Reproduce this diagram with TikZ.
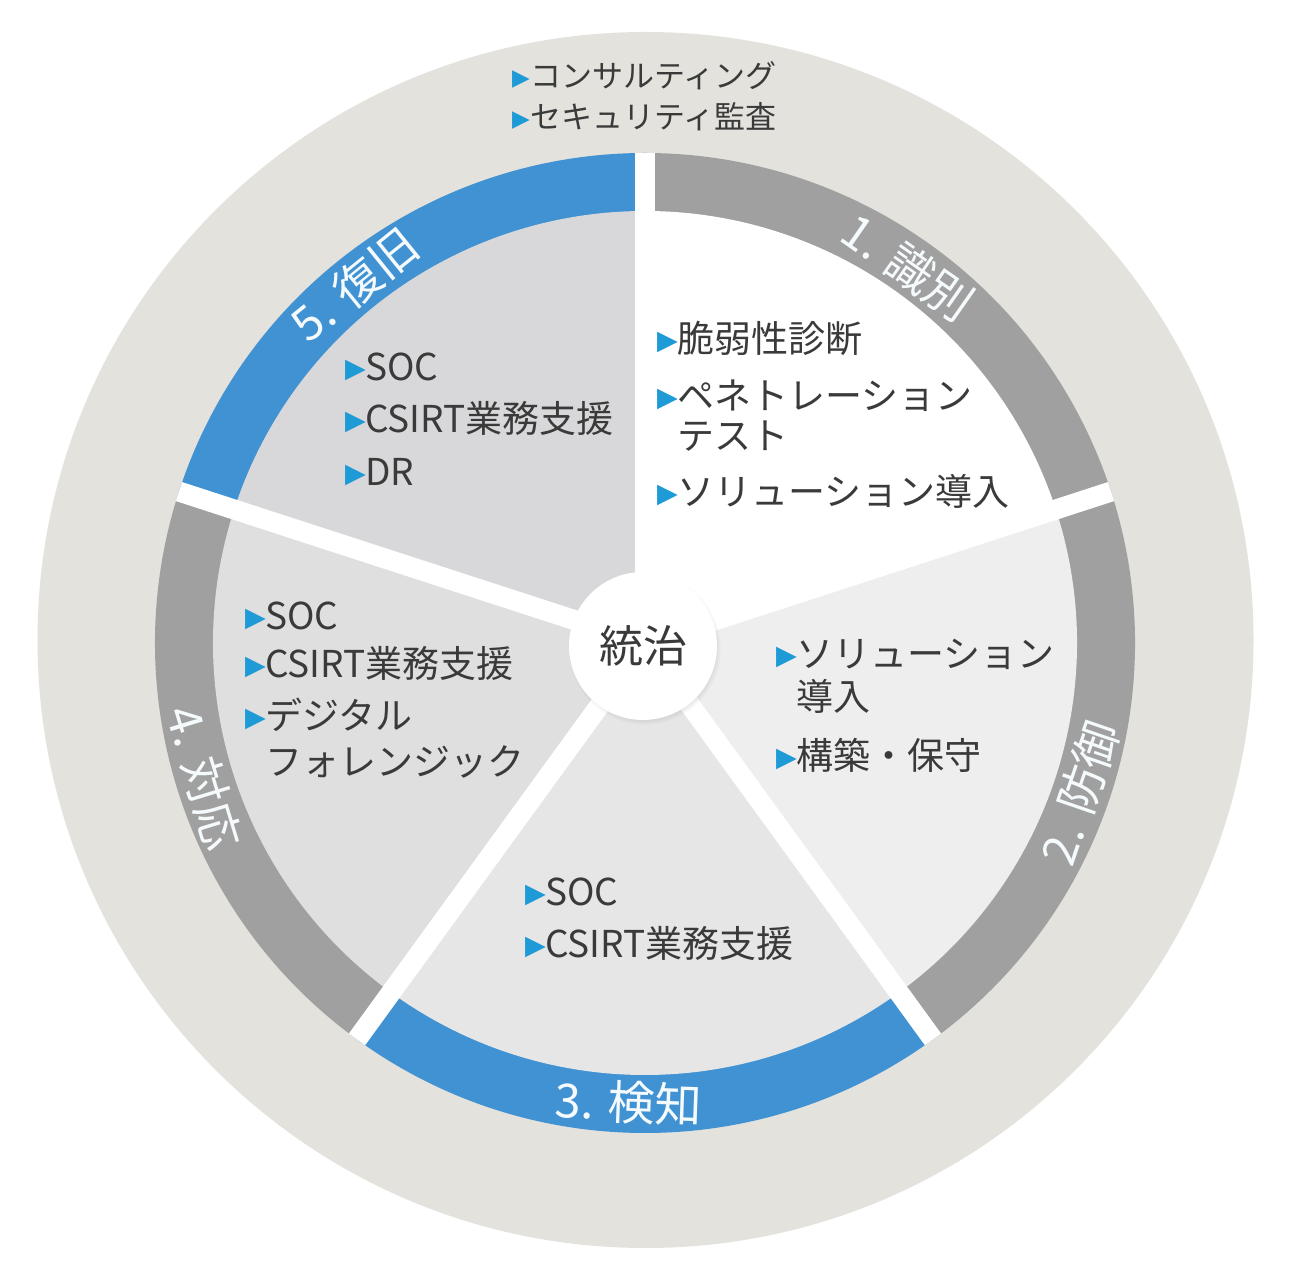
\documentclass[tikz,border=0pt]{standalone}
\usepackage{fontspec}
\setmainfont{Noto Sans CJK JP}
\newfontfamily\dejavu{DejaVu Sans}
\usetikzlibrary{shadows}
\definecolor{outerbg}{HTML}{E3E2DD}
\definecolor{bandgrey}{HTML}{A0A0A0}
\definecolor{bandblue}{HTML}{4092D3}
\definecolor{segA}{HTML}{FFFFFF}
\definecolor{segB}{HTML}{EEEEEE}
\definecolor{segC}{HTML}{E6E6E6}
\definecolor{segD}{HTML}{DFDFDF}
\definecolor{segE}{HTML}{D8D8DA}
\definecolor{txt}{HTML}{3A3A3A}
\definecolor{bul}{HTML}{1E9AD6}
\definecolor{lbl}{HTML}{F5FAFD}
\newcommand\itembul{\makebox[20pt][l]{\raisebox{3pt}{\textcolor{bul}{\dejavu\fontsize{27pt}{27pt}\selectfont ▶}}}}
\newcommand\smallbul{\makebox[18pt][l]{\raisebox{2.5pt}{\textcolor{bul}{\dejavu\fontsize{23pt}{23pt}\selectfont ▶}}}}
\newcommand\itemind{\hspace*{20pt}}
\begin{document}
\begin{tikzpicture}[x=1pt,y=1pt,
  itemtext/.style={anchor=base west, inner sep=0pt, align=left, text=txt,
    font=\fontsize{37pt}{40pt}\selectfont},
  bandlabel/.style={inner sep=0pt, text=lbl, font=\fontsize{47pt}{47pt}\selectfont},
  govnode/.style={circle, fill=white, minimum size=148pt, inner sep=0pt, text=txt,
    font=\fontsize{44pt}{44pt}\selectfont,
    circular drop shadow={shadow xshift=1.5pt, shadow yshift=-2.5pt, shadow scale=1.03, opacity=0.35}},
]
\useasboundingbox (0,0) rectangle (1300,1266);
\fill[white] (0,0) rectangle (1300,1266);
\coordinate (C) at (645,623);
% outer disc
\fill[outerbg] (645.5,626) circle[radius=608];
% coloured band segments
\fill[bandgrey] (C) -- ++(18:490) arc[start angle=18,end angle=90,radius=490] -- cycle;
\fill[bandgrey] (C) -- ++(-54:490) arc[start angle=-54,end angle=18,radius=490] -- cycle;
\fill[bandblue] (C) -- ++(-126:490) arc[start angle=-126,end angle=-54,radius=490] -- cycle;
\fill[bandgrey] (C) -- ++(162:490) arc[start angle=162,end angle=234,radius=490] -- cycle;
\fill[bandblue] (C) -- ++(90:490) arc[start angle=90,end angle=162,radius=490] -- cycle;
% inner wedges
\fill[segA] (C) -- ++(18:432) arc[start angle=18,end angle=90,radius=432] -- cycle;
\fill[segB] (C) -- ++(-54:432) arc[start angle=-54,end angle=18,radius=432] -- cycle;
\fill[segC] (C) -- ++(-126:432) arc[start angle=-126,end angle=-54,radius=432] -- cycle;
\fill[segD] (C) -- ++(162:432) arc[start angle=162,end angle=234,radius=432] -- cycle;
\fill[segE] (C) -- ++(90:432) arc[start angle=90,end angle=162,radius=432] -- cycle;
% white gaps
\foreach \a in {90,18,-54,-126,162}
  \draw[white, line width=20pt] (C) -- ++(\a:490);
% band labels
\node[bandlabel, rotate=-35] (l1) at ([shift={(55:459)}]C) {1. 識別};
\node[bandlabel, rotate=71] (l2) at ([shift={(-19:460)}]C) {2. 防御};
\node[bandlabel, rotate=-2] (l3) at ([shift={(-92:460)}]C) {3. 検知};
\node[bandlabel, rotate=-73] (l4) at ([shift={(197:461)}]C) {4. 対応};
\node[bandlabel, rotate=39] (l5) at ([shift={(129:461)}]C) {5. 復旧};
% centre
\node[govnode] (gov) at (643,620) {統治};
% item texts (anchor = baseline of the last line)
\node[itemtext, font=\fontsize{31pt}{41pt}\selectfont] (top) at (512,1137)
  {\smallbul コンサルティング\\\smallbul セキュリティ監査};
\node[itemtext] (s1) at (657,760)
  {\itembul 脆弱性診断\\[17pt]\itembul ペネトレーション\\\itemind テスト\\[16pt]\itembul ソリューション導入};
\node[itemtext] (s2) at (776,496)
  {\itembul ソリューション\\[3pt]\itemind 導入\\[19pt]\itembul 構築・保守};
\node[itemtext] (s3) at (525,308)
  {\itembul SOC\\[12pt]\itembul CSIRT業務支援};
\node[itemtext] (s4) at (245,490)
  {\itembul SOC\\[8pt]\itembul CSIRT業務支援\\[12pt]\itembul デジタル\\[6pt]\itemind フォレンジック};
\node[itemtext] (s5) at (345,780)
  {\itembul SOC\\[12pt]\itembul CSIRT業務支援\\[13pt]\itembul DR};
\end{tikzpicture}
\end{document}
